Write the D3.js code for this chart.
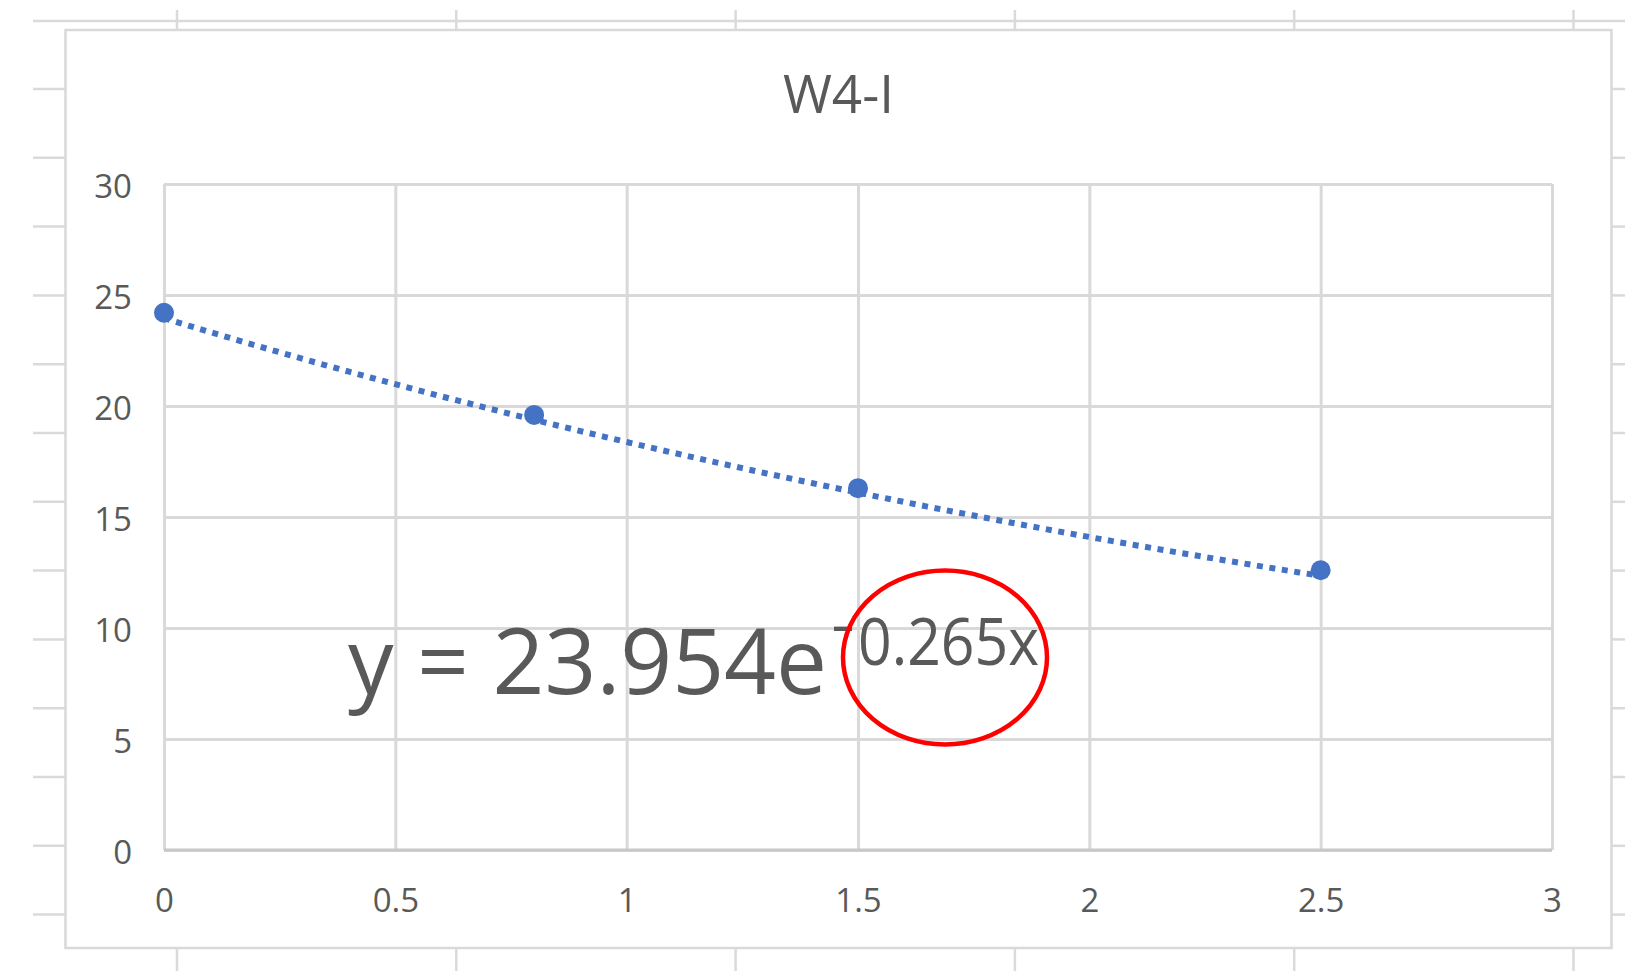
<!DOCTYPE html>
<html>
<head>
<meta charset="utf-8">
<script src="https://cdn.jsdelivr.net/npm/d3@7"></script>
<style>
  body { margin: 0; background: #fff; }
  svg { display: block; font-family: 'Open Sans', 'Noto Sans', sans-serif; }
  .tick text { fill: #595959; font-size: 33px; font-family: 'Open Sans', sans-serif; }
  .grid line { stroke: #d9d9d9; stroke-width: 3; }
</style>
</head>
<body>
<div id="chart"></div>
<script>

const title = 'W4-I'

const xValues = [0, 0.8, 1.5, 2.5]
const yValues = [24.2, 19.6, 16.3, 12.6]

const xTicks = [0, 0.5, 1, 1.5, 2, 2.5, 3]
const yTicks = [0, 5, 10, 15, 20, 25, 30]

// exponential trendline as printed on the chart
const trendCoef = 23.954
const trendRate = -0.265
const trendText = 'y = 23.954e'
const trendExpSign = '-'
const trendExpText = '0.265x'

const plot = () => {

  const W = 1625, H = 971
  const margin = { top: 184, right: 73, bottom: 121, left: 164 }
  const width = W - margin.left - margin.right,
        height = H - margin.top - margin.bottom

  const svg = d3.select('#chart').append('svg')
    .attr('width', W)
    .attr('height', H)

  // spreadsheet cells peeking out behind the chart
  const sheet = svg.append('g').attr('stroke', '#dadada').attr('stroke-width', 2.5)
  const rows = d3.range(13).map(i => 89 + i * 68.8)
  const cols = d3.range(6).map(i => 177 + i * 279.3)
  sheet.append('line').attr('x1', 33).attr('x2', W).attr('y1', 21).attr('y2', 21)
  sheet.selectAll('.row-l').data(rows).enter().append('line')
    .attr('x1', 33).attr('x2', 66).attr('y1', d => d).attr('y2', d => d)
  sheet.selectAll('.row-r').data(rows).enter().append('line')
    .attr('x1', 1611).attr('x2', W).attr('y1', d => d).attr('y2', d => d)
  sheet.selectAll('.col-t').data(cols).enter().append('line')
    .attr('x1', d => d).attr('x2', d => d).attr('y1', 10).attr('y2', 30)
  sheet.selectAll('.col-b').data(cols).enter().append('line')
    .attr('x1', d => d).attr('x2', d => d).attr('y1', 948).attr('y2', H)

  svg.append('rect')
    .attr('x', 65.5).attr('y', 30)
    .attr('width', 1546).attr('height', 918)
    .attr('fill', '#fff')
    .attr('stroke', '#d9d9d9')
    .attr('stroke-width', 2.5)

  svg.append('text')
    .attr('x', (65.5 + 1611.5) / 2)
    .attr('y', 113)
    .attr('text-anchor', 'middle')
    .attr('fill', '#595959')
    .style('font-size', '53px')
    .text(title)

  const xScale = d3.scaleLinear().domain([0, 3]).range([0, width])
  const yScale = d3.scaleLinear().domain([0, 30]).range([height, 0])

  const g = svg.append('g')
    .attr('transform', 'translate(' + margin.left + ', ' + margin.top + ')')

  g.append('g').classed('grid', true)
    .call(d3.axisLeft(yScale).tickValues(yTicks).tickSize(-width).tickFormat(''))
    .call(s => s.select('.domain').remove())

  g.append('g').classed('grid', true)
    .attr('transform', 'translate(0, ' + height + ')')
    .call(d3.axisBottom(xScale).tickValues(xTicks).tickSize(-height).tickFormat(''))
    .call(s => s.select('.domain').remove())

  g.append('line')
    .attr('x1', 0).attr('x2', width)
    .attr('y1', height).attr('y2', height)
    .attr('stroke', '#c8c8c8').attr('stroke-width', 3)

  g.append('g')
    .call(d3.axisLeft(yScale).tickValues(yTicks).tickSize(0).tickPadding(32))
    .call(s => s.select('.domain').remove())
    .selectAll('text').attr('dy', '0.42em')

  g.append('g')
    .attr('transform', 'translate(0, ' + height + ')')
    .call(d3.axisBottom(xScale).tickValues(xTicks).tickSize(0).tickPadding(39)
      .tickFormat(d => String(d)))
    .call(s => s.select('.domain').remove())

  const trendX = d3.range(0, 2.5001, 0.05)
  const trendLine = d3.line()
    .x(d => xScale(d))
    .y(d => yScale(trendCoef * Math.exp(trendRate * d)))

  g.append('path')
    .datum(trendX)
    .attr('d', trendLine)
    .attr('fill', 'none')
    .attr('stroke', '#4472c4')
    .attr('stroke-width', 6)
    .attr('stroke-dasharray', '6,6.6')

  g.selectAll('.dot')
    .data(xValues).enter()
    .append('circle').classed('dot', true)
    .attr('cx', d => xScale(d))
    .attr('cy', (d, i) => yScale(yValues[i]))
    .attr('r', 10)
    .attr('fill', '#4472c4')

  const eq = svg.append('text').attr('fill', '#595959')
  eq.append('tspan')
    .attr('x', 348).attr('y', 694)
    .style('font-size', '92px')
    .attr('textLength', 479)
    .attr('lengthAdjust', 'spacingAndGlyphs')
    .text(trendText)
  eq.append('tspan')
    .attr('x', 831).attr('y', 645)
    .style('font-size', '60px')
    .attr('textLength', 24)
    .attr('lengthAdjust', 'spacingAndGlyphs')
    .text(trendExpSign)
  eq.append('tspan')
    .attr('x', 858).attr('y', 665)
    .style('font-size', '66px')
    .attr('textLength', 181)
    .attr('lengthAdjust', 'spacingAndGlyphs')
    .text(trendExpText)

  svg.append('ellipse')
    .attr('cx', 945).attr('cy', 657.5)
    .attr('rx', 102).attr('ry', 87)
    .attr('fill', 'none')
    .attr('stroke', '#ff0000')
    .attr('stroke-width', 4.5)
}

plot()
</script>
</body>
</html>
